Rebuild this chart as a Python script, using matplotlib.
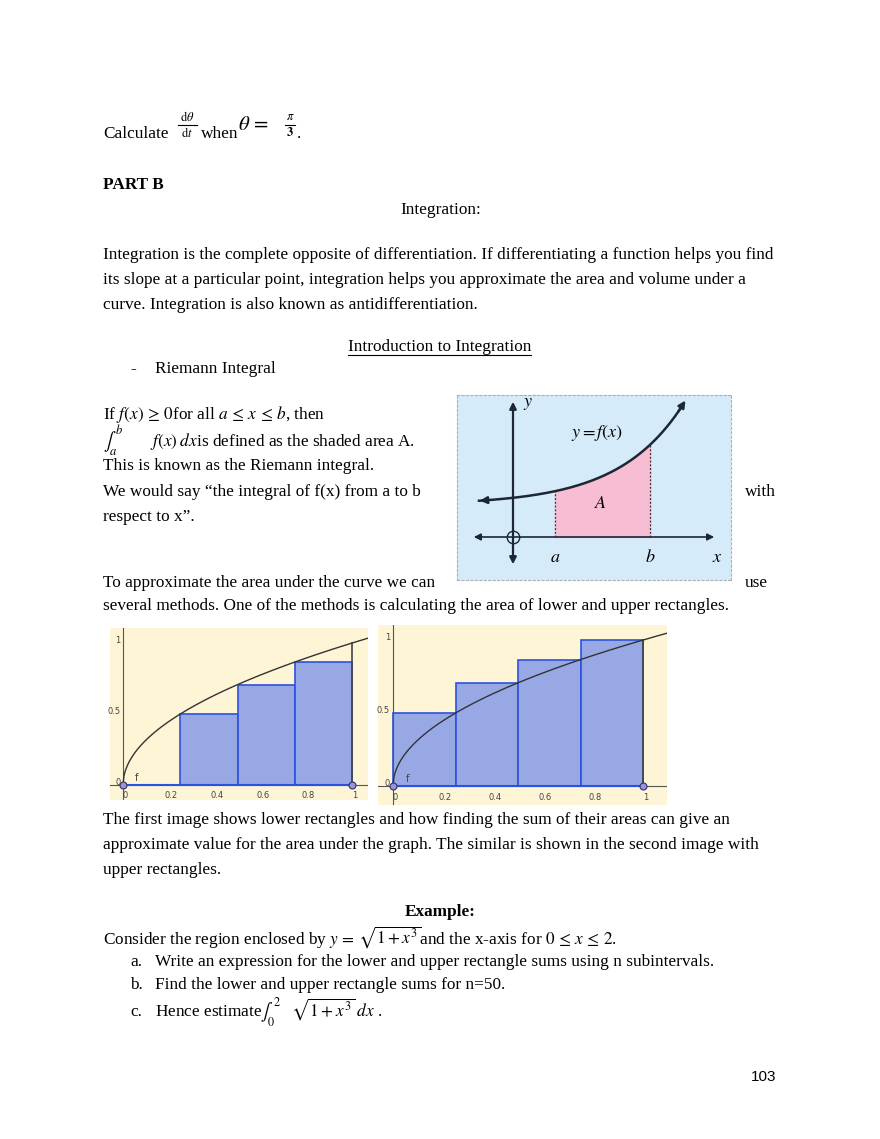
import numpy as np
import matplotlib
matplotlib.use('Agg')
import matplotlib.pyplot as plt
from matplotlib.patches import Rectangle

plt.rcParams['font.family'] = ['Liberation Serif', 'DejaVu Serif']
plt.rcParams['mathtext.fontset'] = 'stix'

W, H = 880, 1139

# rectangle data for the two sketches
rect_lefts = [0.0, 0.25, 0.5, 0.75]
rect_width = 0.25
lower_heights = [0.0, 0.5, 0.707, 0.866]
upper_heights = [0.5, 0.707, 0.866, 1.0]
x_ticks = [0, 0.2, 0.4, 0.6, 0.8, 1]
x_tick_labels = ['0', '0.2', '0.4', '0.6', '0.8', '1']
y_ticks = [0, 0.5, 1]
y_tick_labels = ['0', '0.5', '1']

# riemann sketch
a_val, b_val = 1.05, 3.43

fig = plt.figure(figsize=(W / 100, H / 100), dpi=100)
fig.patch.set_facecolor('white')


def txt(x, y, s, **kw):
    kw.setdefault('fontsize', 12.45)
    kw.setdefault('va', 'center')
    return fig.text(x / W, 1 - y / H, s, **kw)


def box(x0, y0, x1, y1):
    return fig.add_axes([x0 / W, 1 - y1 / H, (x1 - x0) / W, (y1 - y0) / H])


def hline(x0, x1, y):
    fig.add_artist(plt.Line2D([x0 / W, x1 / W], [1 - y / H, 1 - y / H], color='black', lw=0.8))


txt(103, 134, 'Calculate')
txt(187, 117, r'$\mathrm{d}\theta$', fontsize=9, ha='center')
txt(187, 133, r'$\mathrm{d}t$', fontsize=9, ha='center')
hline(178, 197, 125)
txt(201, 134, 'when')
txt(238, 125, r'$\theta\,=$', fontsize=15)
txt(290, 117, r'$\pi$', fontsize=9, ha='center')
txt(290, 133, r'$\mathbf{3}$', fontsize=9, ha='center')
hline(285, 295, 125)
txt(297, 134, '.')

txt(103, 185, 'PART B', fontweight='bold')
txt(441, 210, 'Integration:', ha='center')
txt(103, 255, 'Integration is the complete opposite of differentiation. If differentiating a function helps you find')
txt(103, 280, 'its slope at a particular point, integration helps you approximate the area and volume under a')
txt(103, 305, 'curve. Integration is also known as antidifferentiation.')
txt(440, 347, 'Introduction to Integration', ha='center')
hline(348, 531, 355)
txt(130, 369, '-')
txt(155, 369, 'Riemann Integral')

txt(103, 415, r'If $f(x)\,\geq\,0$for all $a\,\leq\,x\,\leq\,b$, then')
txt(103, 441, r'$\int_a^b$', fontsize=13)
txt(150, 441, r'$f(x)\;dx$is defined as the shaded area A.')
txt(103, 466, 'This is known as the Riemann integral.')
txt(103, 492, 'We would say \u201cthe integral of f(x) from a to b')
txt(745, 492, 'with')
txt(103, 517, 'respect to x\u201d.')
txt(103, 583, 'To approximate the area under the curve we can')
txt(745, 583, 'use')
txt(103, 606, 'several methods. One of the methods is calculating the area of lower and upper rectangles.')

txt(103, 820, 'The first image shows lower rectangles and how finding the sum of their areas can give an')
txt(103, 845, 'approximate value for the area under the graph. The similar is shown in the second image with')
txt(103, 870, 'upper rectangles.')
txt(440, 912, 'Example:', ha='center', fontweight='bold')
txt(103, 937, r'Consider the region enclosed by $y\,=\,\sqrt{1+x^3}$and the x-axis for $0\,\leq\,x\,\leq\,2$.')
txt(130, 962, 'a.')
txt(155, 962, 'Write an expression for the lower and upper rectangle sums using n subintervals.')
txt(130, 985, 'b.')
txt(155, 985, 'Find the lower and upper rectangle sums for n=50.')
txt(130, 1012, 'c.')
txt(155, 1012, r'Hence estimate$\int_0^2\quad\sqrt{1+x^3}\;dx$ .')
txt(776, 1077, '103', family='Liberation Sans', fontsize=11, ha='right')

# ---- Riemann integral diagram
ax = box(457, 395, 731, 580)
ax.set_facecolor('#d5ebfa')
for s in ax.spines.values():
    s.set_linestyle((0, (2, 2)))
    s.set_color('#aab0b8')
ax.set_xticks([]); ax.set_yticks([])
ax.set_xlim(-1.4, 5.45)
ax.set_ylim(-1.075, 3.55)


def f(x):
    return 0.8 + 0.18 * np.exp(0.62 * x)


xs = np.linspace(-0.85, 4.2, 200)
xa = np.linspace(a_val, b_val, 100)
ax.fill_between(xa, 0, f(xa), color='#f7bdd3')
ax.plot(xs, f(xs), color='#1c2733', lw=1.8)
ax.annotate('', xy=(-0.9, f(-0.9)), xytext=(-0.6, f(-0.6)),
            arrowprops=dict(arrowstyle='-|>', color='#1c2733', lw=1.8))
ax.annotate('', xy=(4.35, f(4.35)), xytext=(4.1, f(4.1)),
            arrowprops=dict(arrowstyle='-|>', color='#1c2733', lw=1.8))
ax.annotate('', xy=(-1.05, 0), xytext=(5.1, 0),
            arrowprops=dict(arrowstyle='<|-|>', color='#1c2733', lw=1.2))
ax.annotate('', xy=(0, -0.75), xytext=(0, 3.45),
            arrowprops=dict(arrowstyle='<|-|>', color='#1c2733', lw=1.6))
ax.plot([0], [0], 'o', ms=9, mfc='none', mec='#1c2733', mew=1)
for xv in (a_val, b_val):
    ax.plot([xv, xv], [0, f(xv)], color='#333333', lw=0.9, ls=(0, (1.5, 1.5)))
ax.text(a_val, -0.3, '$a$', ha='center', va='top', fontsize=13)
ax.text(b_val, -0.3, '$b$', ha='center', va='top', fontsize=13)
ax.text(5.1, -0.3, '$x$', ha='center', va='top', fontsize=13)
ax.text(0.25, 3.35, '$y$', ha='left', va='center', fontsize=13)
ax.text(2.1, 2.6, '$y=f(x)$', ha='center', va='center', fontsize=13)
ax.text(2.2, 0.85, '$A$', ha='center', va='center', fontsize=13)


# ---- rectangle sketches
def rect_chart(ax, heights, xlim, ylim):
    ax.set_facecolor('#fdf5d6')
    ax.set_xlim(*xlim); ax.set_ylim(*ylim)
    for s in ax.spines.values():
        s.set_visible(False)
    ax.set_xticks([]); ax.set_yticks([])
    for x0, h in zip(rect_lefts, heights):
        ax.add_patch(Rectangle((x0, 0), rect_width, h, facecolor='#97a8e4',
                               edgecolor='#2a52e0', lw=1.2))
    ax.axhline(0, color='#555555', lw=0.8)
    ax.axvline(0, color='#555555', lw=0.8)
    ax.plot([0, 1], [0, 0], color='#2a52e0', lw=1.5)
    ax.plot([1, 1], [0, 1], color='#444444', lw=1.2)
    xs = np.linspace(0, xlim[1], 300)
    ax.plot(xs, np.sqrt(xs), color='#333333', lw=1)
    ax.plot([0, 1], [0, 0], 'o', ms=5, mfc='#9a92d8', mec='#333366', mew=0.8)
    for xv, lab in zip(x_ticks, x_tick_labels):
        ax.text(xv + 0.01, -0.045, lab, fontsize=6, family='DejaVu Sans', color='#444444', va='top', ha='center')
    for yv, lab in zip(y_ticks, y_tick_labels):
        ax.text(-0.012, yv + 0.02, lab, fontsize=6, family='DejaVu Sans', color='#444444', va='center', ha='right')
    ax.text(0.05, 0.025, 'f', fontsize=7, family='DejaVu Sans', color='#444444')


ax1 = box(110, 628, 368, 800)
rect_chart(ax1, lower_heights, (-0.057, 1.07), (-0.106, 1.106))
ax2 = box(378, 625, 667, 805)
rect_chart(ax2, upper_heights, (-0.06, 1.096), (-0.13, 1.103))

fig.savefig('out.png', dpi=100)
